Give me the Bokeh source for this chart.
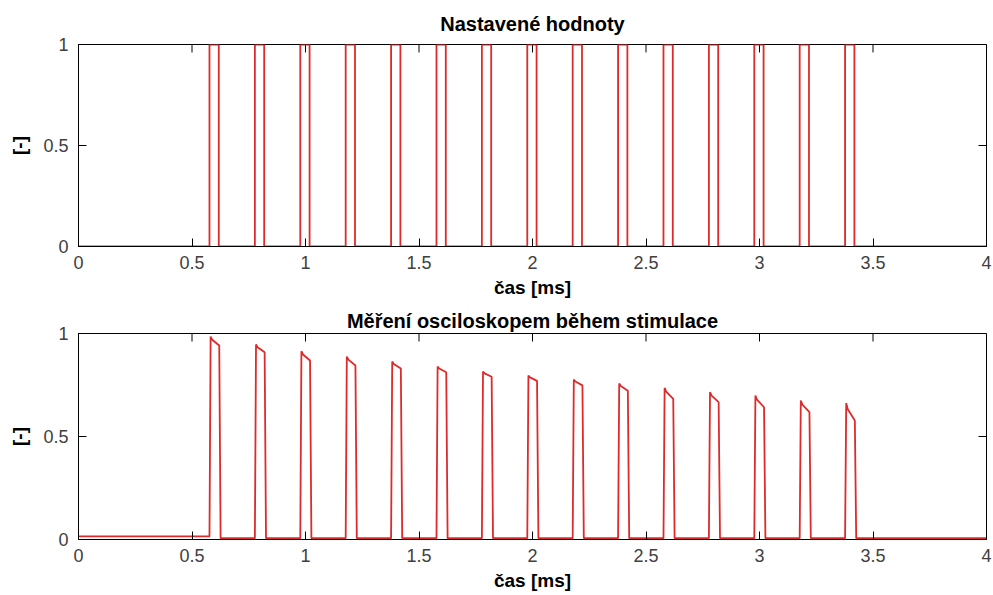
from bokeh.plotting import figure
from bokeh.layouts import column
from bokeh.models import Range1d, FixedTicker
from bokeh.embed import file_html
from bokeh.resources import INLINE

# ---- data ----
x_ticks = [0, 0.5, 1, 1.5, 2, 2.5, 3, 3.5, 4]
y_ticks = [0, 0.5, 1]
t_start, t_stop = 0.0, 4.0

# set values (top panel): rectangular pulses of height 1
set_rise = [0.577, 0.777, 0.977, 1.177, 1.377, 1.577, 1.777, 1.977,
            2.177, 2.377, 2.577, 2.777, 2.977, 3.177, 3.377]
set_fall = [0.618, 0.818, 1.018, 1.218, 1.418, 1.618, 1.818, 2.018,
            2.218, 2.418, 2.618, 2.818, 3.018, 3.218, 3.418]
set_level = 1.0

# oscilloscope measurement (bottom panel)
meas_rise = [0.577, 0.777, 0.977, 1.177, 1.377, 1.577, 1.777, 1.977,
             2.177, 2.377, 2.577, 2.777, 2.977, 3.177, 3.377]
meas_fall = [0.620, 0.820, 1.020, 1.220, 1.420, 1.620, 1.820, 2.020,
             2.220, 2.420, 2.620, 2.820, 3.020, 3.220, 3.420]
meas_peak = [0.985, 0.947, 0.914, 0.888, 0.864, 0.840, 0.815, 0.796,
             0.777, 0.757, 0.736, 0.715, 0.699, 0.675, 0.662]
meas_end = [0.942, 0.909, 0.869, 0.845, 0.830, 0.812, 0.790, 0.770,
            0.748, 0.722, 0.683, 0.667, 0.642, 0.618, 0.578]
meas_base_before = 0.015
meas_base_after = 0.006

# ---- build series ----
tx, ty = [t_start], [0.0]
for r, f in zip(set_rise, set_fall):
    tx += [r, r, f, f]
    ty += [0.0, set_level, set_level, 0.0]
tx.append(t_stop)
ty.append(0.0)

mx, my = [t_start], [meas_base_before]
base = meas_base_before
for r, f, pk, en in zip(meas_rise, meas_fall, meas_peak, meas_end):
    mx += [r, r + 0.005, r + 0.012, f, f + 0.006]
    my += [base, pk, pk - 0.35 * (pk - en), en, meas_base_after]
    base = meas_base_after
mx.append(t_stop)
my.append(meas_base_after)

FONT = "Liberation Sans"
RED = "#de2a2a"
TICK_COL = "#404040"
FRAME_W = 908  # px, plot frame width
TICK_PX = 8


def make_fig(title, height, top, bottom, title_standoff):
    p = figure(width=993, height=height, x_range=Range1d(t_start, t_stop),
               y_range=Range1d(0, 1), output_backend="svg",
               toolbar_location=None, min_border_left=78, min_border_right=7,
               min_border_top=top, min_border_bottom=bottom)
    p.background_fill_color = "white"
    p.border_fill_color = "white"
    p.outline_line_color = "black"
    p.outline_line_width = 1
    p.xgrid.visible = False
    p.ygrid.visible = False

    p.title.text = title
    p.title.align = "center"
    p.title.text_font = FONT
    p.title.text_font_size = "20px"
    p.title.text_font_style = "bold"
    p.title.text_color = "black"
    p.title.standoff = title_standoff

    for ax, ticks in ((p.xaxis[0], x_ticks), (p.yaxis[0], y_ticks)):
        ax.ticker = FixedTicker(ticks=ticks)
        ax.major_tick_in = TICK_PX
        ax.major_tick_out = 0
        ax.minor_tick_in = 0
        ax.minor_tick_out = 0
        ax.axis_line_color = "black"
        ax.major_tick_line_color = "black"
        ax.major_label_text_font = FONT
        ax.major_label_text_font_size = "18px"
        ax.major_label_text_color = TICK_COL
        ax.axis_label_text_font = FONT
        ax.axis_label_text_font_size = "19px"
        ax.axis_label_text_font_style = "bold"
        ax.axis_label_text_color = "black"
    p.xaxis[0].axis_label = "čas [ms]"
    p.xaxis[0].major_label_standoff = 9
    p.xaxis[0].axis_label_standoff = 5
    p.yaxis[0].axis_label = "[-]"
    p.yaxis[0].major_label_standoff = 10
    p.yaxis[0].axis_label_standoff = 10
    return p


def mirror_ticks(p, frame_h):
    # inward ticks on the top and right edges of the box
    dy = TICK_PX / frame_h
    dx = TICK_PX / FRAME_W * (t_stop - t_start)
    p.segment(x0=x_ticks, y0=[1.0] * len(x_ticks), x1=x_ticks,
              y1=[1.0 - dy] * len(x_ticks), line_color="black", line_width=1)
    p.segment(x0=[t_stop] * len(y_ticks), y0=y_ticks,
              x1=[t_stop - dx] * len(y_ticks), y1=y_ticks,
              line_color="black", line_width=1)


p1 = make_fig("Nastavené hodnoty", 303, 43, 57, 20)
mirror_ticks(p1, 203)
p1.line(tx, ty, line_color=RED, line_width=1.8)

p2 = make_fig("Měření osciloskopem během stimulace", 292, 30, 56, 4)
mirror_ticks(p2, 206)
p2.line(mx, my, line_color=RED, line_width=1.8)

layout = column(p1, p2, spacing=0)
open("out.html", "w").write(file_html(layout, INLINE))
